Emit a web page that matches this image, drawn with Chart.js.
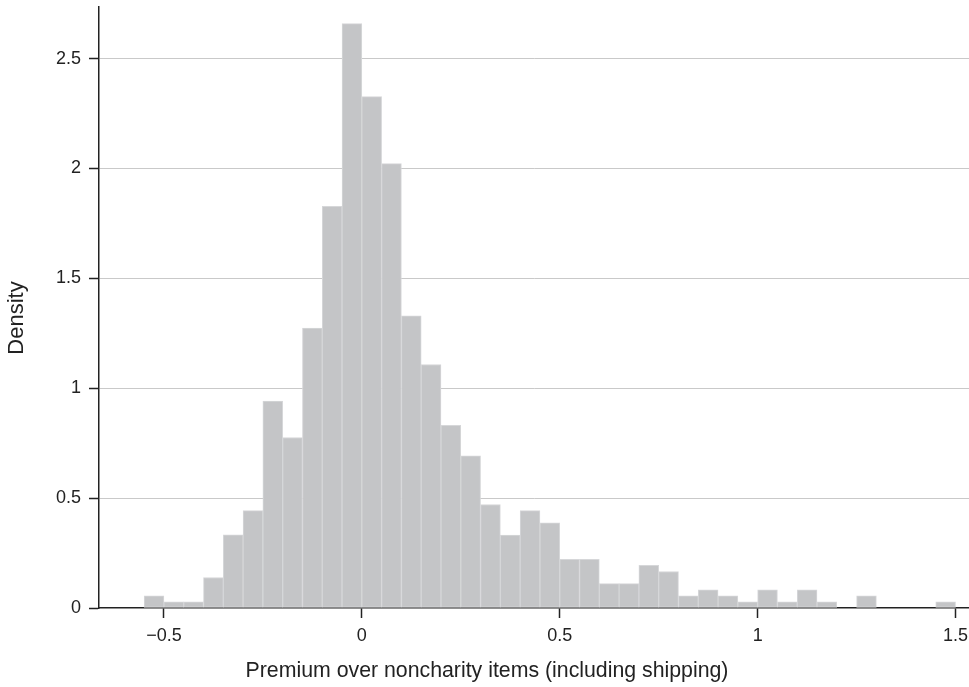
<!DOCTYPE html>
<html><head><meta charset="utf-8">
<script src="https://cdn.jsdelivr.net/npm/chart.js@4/dist/chart.umd.min.js"></script>
<style>html,body{margin:0;padding:0;background:#fff}canvas{display:block}</style>
</head><body>
<canvas id="c" width="969" height="687"></canvas>
<script>
// Histogram bins: start of first bin and bin width
const binStart = -0.55;
const binWidth = 0.05;
// Density for each bin (41 bins from -0.55 to 1.5)
const densities = [
  0.055, 0.028, 0.028, 0.139, 0.333, 0.443, 0.942, 0.776, 1.274, 1.828,
  2.659, 2.327, 2.022, 1.330, 1.108, 0.831, 0.693, 0.471, 0.332, 0.443,
  0.388, 0.222, 0.222, 0.111, 0.111, 0.194, 0.166, 0.055, 0.083, 0.055,
  0.028, 0.083, 0.028, 0.083, 0.028, 0, 0.055, 0, 0, 0, 0.028
];
const xTicks = [-0.5, 0, 0.5, 1, 1.5];
const yTicks = [0, 0.5, 1, 1.5, 2, 2.5];
const xRange = [-0.664, 1.534];
const yRange = [0, 2.735];
const xTitle = 'Premium over noncharity items (including shipping)';
const yTitle = 'Density';

const points = densities.map((d, i) => ({ x: +(binStart + binWidth * (i + 0.5)).toFixed(4), y: d }));

const FONT = '"Liberation Sans", Arial, Helvetica, sans-serif';
const INK = '#222';

const fmt = v => {
  const r = Math.round(v * 100) / 100;
  return r < 0 ? '\u2212' + String(Math.abs(r)) : String(r);
};

const titlePlugin = {
  id: 'axisTitles',
  afterDraw(chart) {
    const ctx = chart.ctx;
    ctx.save();
    ctx.fillStyle = INK;
    ctx.textAlign = 'center';
    ctx.textBaseline = 'alphabetic';
    ctx.font = '21.3px ' + FONT;
    ctx.fillText(xTitle, 487, 677);
    ctx.translate(23, 318);
    ctx.rotate(-Math.PI / 2);
    ctx.font = '22px ' + FONT;
    ctx.fillText(yTitle, 0, 0);
    ctx.restore();
  }
};

new Chart(document.getElementById('c'), {
  type: 'bar',
  data: {
    datasets: [{
      data: points,
      backgroundColor: '#c4c5c7',
      borderColor: '#d6d7d9',
      borderWidth: 1,
      borderSkipped: false,
      barPercentage: 1,
      categoryPercentage: 1
    }]
  },
  plugins: [titlePlugin],
  options: {
    responsive: false,
    animation: false,
    layout: { padding: { top: 7, left: 0, right: 0, bottom: 0 } },
    plugins: { legend: { display: false }, tooltip: { enabled: false } },
    scales: {
      x: {
        type: 'linear',
        min: xRange[0], max: xRange[1],
        offset: false,
        afterBuildTicks: s => { s.ticks = xTicks.map(v => ({ value: v })); },
        afterFit: s => { s.height = 79; s.paddingLeft = 0; s.paddingRight = 0; },
        ticks: { callback: v => fmt(v), color: INK, font: { family: FONT, size: 18 }, padding: 7, maxRotation: 0, autoSkip: false },
        grid: { offset: false, drawOnChartArea: false, tickLength: 10, tickColor: INK, tickWidth: 1.5 },
        border: { color: INK, width: 1.5 }
      },
      y: {
        type: 'linear',
        min: yRange[0], max: yRange[1],
        afterBuildTicks: s => { s.ticks = yTicks.map(v => ({ value: v })); },
        afterFit: s => { s.width = 99; s.paddingTop = 0; s.paddingBottom = 0; },
        ticks: { callback: v => fmt(v), color: INK, font: { family: FONT, size: 18 }, padding: 8 },
        grid: {
          color: c => (c.tick && c.tick.value === 0) ? 'rgba(0,0,0,0)' : '#c9c9c9',
          lineWidth: 1,
          tickLength: 10, tickColor: INK, tickWidth: 1.5
        },
        border: { color: INK, width: 1.5 }
      }
    }
  }
});
</script>
</body></html>
